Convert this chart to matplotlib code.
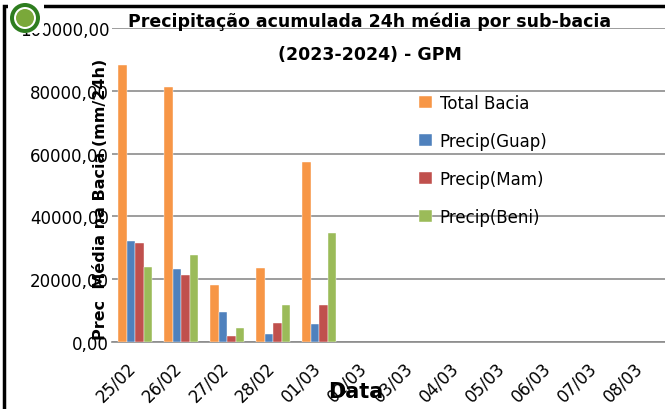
import numpy as np
import matplotlib
matplotlib.use("Agg")
import matplotlib.pyplot as plt
from matplotlib.patches import Ellipse, Rectangle
from matplotlib.transforms import ScaledTranslation

# dados
datas = ["25/02", "26/02", "27/02", "28/02", "01/03", "02/03",
         "03/03", "04/03", "05/03", "06/03", "07/03", "08/03"]
total_bacia = [88200, 81300, 18250, 23550, 57400]
precip_guap = [32170, 23250, 9550, 2550, 5730]
precip_mam = [31500, 21300, 1900, 6150, 11900]
precip_beni = [23900, 27800, 4550, 11800, 34700]

series = [
    ("Total Bacia", total_bacia, "#F79646"),
    ("Precip(Guap)", precip_guap, "#4F81BD"),
    ("Precip(Mam)", precip_mam, "#C0504D"),
    ("Precip(Beni)", precip_beni, "#9BBB59"),
]

plt.rcParams['font.family'] = ['DejaVu Sans']

fig = plt.figure(figsize=(6.65, 4.10), dpi=100)
ax = fig.add_axes([112/665, 1-343/410, 1-112/665, (343-29)/410])

w = 0.185
for k, (nome, vals, cor) in enumerate(series):
    x = np.arange(len(vals)) + 0.5 + (k - 1.5) * w
    ax.bar(x, vals, width=w, color=cor, edgecolor="white", linewidth=0.3, label=nome, zorder=3)

ax.set_xlim(0, len(datas))
ax.set_ylim(0, 100000)
ax.set_yticks(np.arange(0, 100001, 20000))
ax.set_yticklabels([f"{int(v)},00" for v in np.arange(0, 100001, 20000)], fontsize=12)
ax.set_xticks(np.arange(len(datas)) + 0.5)
ax.set_xticklabels(datas, rotation=45, ha="right", rotation_mode="anchor", fontsize=12)
ax.tick_params(axis="y", length=0, pad=2)
ax.tick_params(axis="x", length=0, pad=12)
desloc = ScaledTranslation(-8/100, 0, fig.dpi_scale_trans)
for lbl in ax.get_xticklabels():
    lbl.set_transform(lbl.get_transform() + desloc)
ax.grid(axis="y", color="#8c8c8c", linewidth=1.2, zorder=0)
for s in ["top", "right", "left"]:
    ax.spines[s].set_visible(False)
ax.spines["bottom"].set_color("#8c8c8c")
ax.spines["bottom"].set_linewidth(1.2)

leg = ax.legend(loc="upper left", bbox_to_anchor=(404/665, 1-80/410), bbox_transform=fig.transFigure,
                frameon=False, fontsize=12, handlelength=0.75, handleheight=0.75,
                handletextpad=0.5, labelspacing=1.2)

fig.text(370/665, 1-22/410, "Precipitação acumulada 24h média por sub-bacia",
         ha="center", va="center", fontsize=12.5, fontweight="bold")
fig.text(370/665, 1-55/410, "(2023-2024) - GPM",
         ha="center", va="center", fontsize=12.5, fontweight="bold")
fig.text(101/665, 1-199/410, "Prec  Média na Bacia (mm/24h)", rotation=90,
         ha="center", va="center", fontsize=11.5, fontweight="bold")
fig.text(356/665, 1-392/410, "Data", ha="center", va="center", fontsize=15, fontweight="bold")

# moldura e logotipo
fig.add_artist(Rectangle((0.006, -0.01), 1.0, 1-0.006, transform=fig.transFigure,
                         fill=False, edgecolor="black", linewidth=2.5))
fig.add_artist(Rectangle((8/665, 1-34/410), 36/665, 32/410, transform=fig.transFigure,
                         facecolor="white", edgecolor="none", zorder=5))
fig.add_artist(Ellipse((25/665, 1-19/410), 30/665, 30/410, transform=fig.transFigure,
                       facecolor="#2e7d1f", edgecolor="none", zorder=6))
fig.add_artist(Ellipse((25/665, 1-19/410), 22/665, 22/410, transform=fig.transFigure,
                       facecolor="white", edgecolor="none", zorder=6))
fig.add_artist(Ellipse((25/665, 1-19/410), 18/665, 18/410, transform=fig.transFigure,
                       facecolor="#7aa83a", edgecolor="none", zorder=6))

fig.savefig("out.png", dpi=100)
